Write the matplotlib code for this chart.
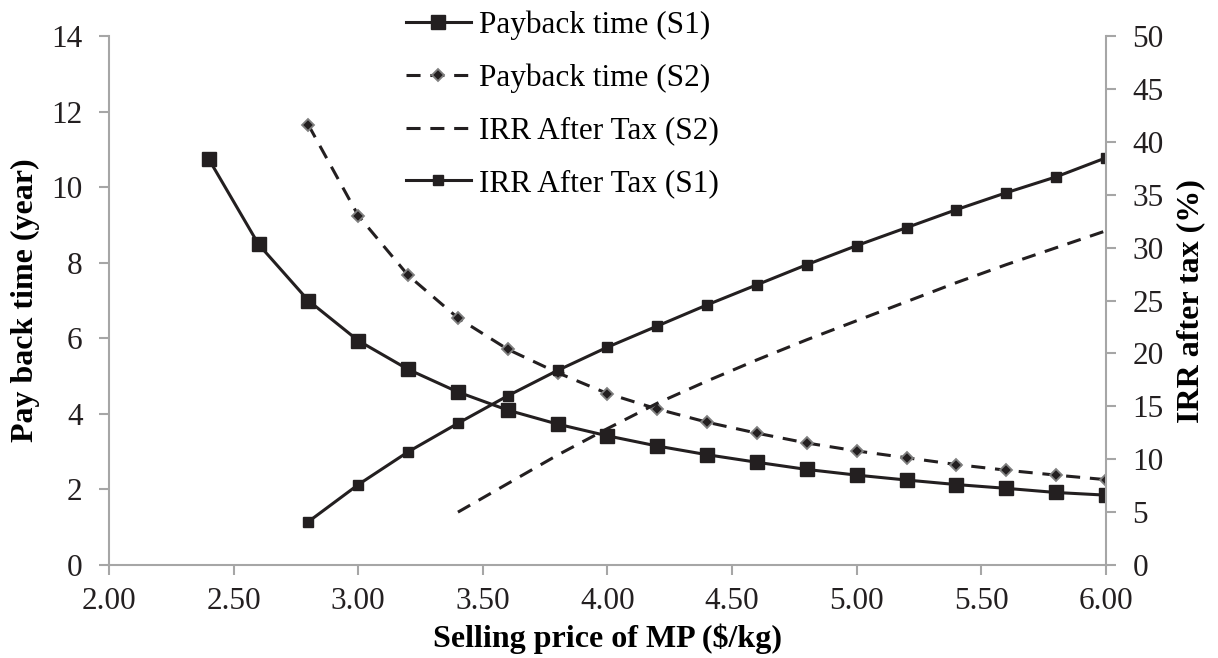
import numpy as np
import matplotlib.pyplot as plt
from matplotlib.ticker import FixedLocator, FormatStrFormatter

plt.rcParams['font.family'] = ['Liberation Serif', 'DejaVu Serif']

# selling price of MP ($/kg)
price_s1 = [2.4, 2.6, 2.8, 3.0, 3.2, 3.4, 3.6, 3.8, 4.0, 4.2, 4.4, 4.6, 4.8, 5.0, 5.2, 5.4, 5.6, 5.8, 6.0]
price_irr1 = [2.8, 3.0, 3.2, 3.4, 3.6, 3.8, 4.0, 4.2, 4.4, 4.6, 4.8, 5.0, 5.2, 5.4, 5.6, 5.8, 6.0]
price_s2 = [2.8, 3.0, 3.2, 3.4, 3.6, 3.8, 4.0, 4.2, 4.4, 4.6, 4.8, 5.0, 5.2, 5.4, 5.6, 5.8, 6.0]
price_irr2 = [3.4, 3.6, 3.8, 4.0, 4.2, 4.4, 4.6, 4.8, 5.0, 5.2, 5.4, 5.6, 5.8, 6.0]

# payback time (year)
payback_s1 = [10.75, 8.49, 7.00, 5.94, 5.18, 4.58, 4.10, 3.73, 3.42, 3.15, 2.92, 2.72,
              2.53, 2.38, 2.25, 2.13, 2.03, 1.92, 1.85]
payback_s2 = [11.65, 9.25, 7.67, 6.54, 5.71, 5.09, 4.54, 4.13, 3.78, 3.49, 3.23, 3.02,
              2.84, 2.66, 2.51, 2.38, 2.26]

# IRR after tax (%)
irr_s1 = [4.1, 7.6, 10.7, 13.4, 16.0, 18.4, 20.6, 22.6, 24.6, 26.5, 28.4, 30.2,
          31.9, 33.6, 35.2, 36.7, 38.5]
irr_s2 = [5.0, 7.7, 10.4, 12.9, 15.3, 17.4, 19.4, 21.3, 23.1, 24.9, 26.7, 28.4, 30.0, 31.6]

xticks = [2.0, 2.5, 3.0, 3.5, 4.0, 4.5, 5.0, 5.5, 6.0]

black = '#231f20'
grey = '#a6a6a6'
dash = (0, (4.6, 3.2))

fig = plt.figure(figsize=(12.18, 6.58), dpi=100)
ax = fig.add_axes([0.0895, 0.1413, 0.8185, 0.8037])
ax2 = ax.twinx()

# 回收期曲线
l1, = ax.plot(price_s1, payback_s1, color=black, lw=2.2, marker='s', ms=10.5,
              label='Payback time (S1)')
l2, = ax.plot(price_s2, payback_s2, color=black, lw=2.2, ls=dash, marker='D', ms=6,
              mfc=black, mec='#808080', mew=1.3, label='Payback time (S2)')
# IRR曲线
l3, = ax2.plot(price_irr2, irr_s2, color=black, lw=2.2, ls=dash,
               label='IRR After Tax (S2)')
l4, = ax2.plot(price_irr1, irr_s1, color=black, lw=2.2, marker='s', ms=7,
               label='IRR After Tax (S1)')

ax.set_xlim(2.0, 6.0)
ax.set_ylim(0, 14)
ax2.set_ylim(0, 50)
ax.xaxis.set_major_locator(FixedLocator(xticks))
ax.xaxis.set_major_formatter(FormatStrFormatter('%.2f'))
ax.set_yticks(range(0, 15, 2))
ax2.set_yticks(range(0, 51, 5))

for a in (ax, ax2):
    a.spines['top'].set_visible(False)
    for s in ('left', 'right', 'bottom'):
        a.spines[s].set_color(grey)
        a.spines[s].set_linewidth(1.5)
    a.tick_params(colors=grey, labelcolor=black, labelsize=22.5, length=7, width=1.5,
                  direction='out', pad=12)
ax.tick_params(axis='x', pad=9)
ax.spines['right'].set_visible(False)
ax2.spines['left'].set_visible(False)
ax2.spines['bottom'].set_visible(False)

ax.set_xlabel('Selling price of MP (\\$/kg)', fontsize=23, fontweight='bold', labelpad=5)
ax.set_ylabel('Pay back time (year)', fontsize=23, fontweight='bold', labelpad=8)
ax2.set_ylabel('IRR after tax (%)', fontsize=23, fontweight='bold', labelpad=9)

ax.legend(handles=[l1, l2, l3, l4], loc='upper left', bbox_to_anchor=(0.285, 1.072),
          frameon=False, fontsize=22.5, handlelength=2.1, handletextpad=0.25,
          labelspacing=0.75, borderaxespad=0)

fig.savefig('out.png', dpi=100)
